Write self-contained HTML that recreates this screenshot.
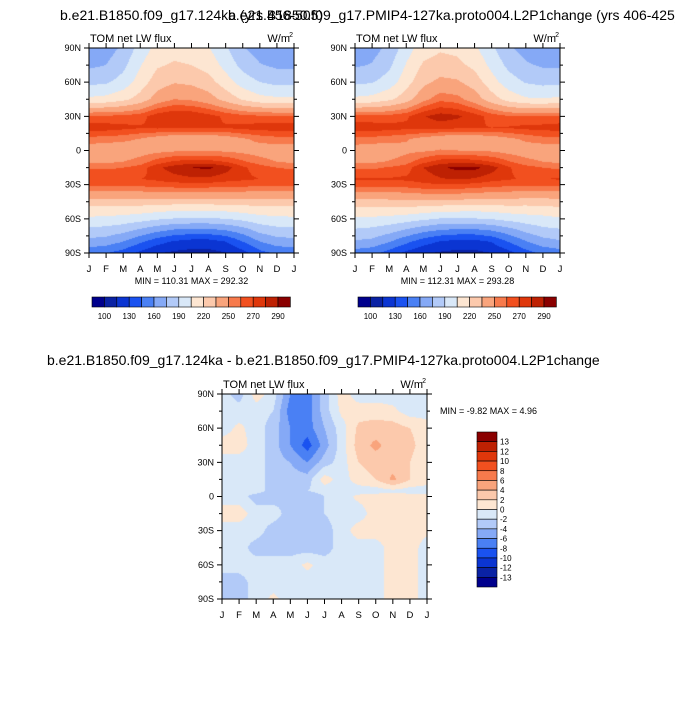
<!DOCTYPE html>
<html><head><meta charset="utf-8">
<style>
html,body{margin:0;padding:0;background:#fff;width:675px;height:701px;overflow:hidden;position:relative;font-family:"Liberation Sans",Arial,sans-serif}
canvas{position:absolute}
svg{position:absolute;left:0;top:0}
</style></head>
<body>
<canvas id="c1" width="205" height="205" style="left:89px;top:48px"></canvas>
<canvas id="c2" width="205" height="205" style="left:355px;top:48px"></canvas>
<canvas id="c3" width="205" height="205" style="left:222px;top:394px"></canvas>
<svg id="ov" width="675" height="701"></svg>
<script>
// ---- data ----
const months = ["J","F","M","A","M","J","J","A","S","O","N","D","J"];
const lats = [90,75,60,45,30,20,10,0,-10,-15,-25,-30,-40,-50,-60,-70,-80,-90];
const latLabels = ["90N","60N","30N","0","30S","60S","90S"];
const latTicks = [90,60,30,0,-30,-60,-90];
const fieldA = [
[165,168,178,196,210,214,212,206,192,176,168,165,165],
[172,175,186,204,218,222,220,214,200,185,176,172,172],
[186,188,196,212,228,234,232,226,212,198,190,186,186],
[208,210,216,226,242,250,248,242,230,218,210,208,208],
[262,262,263,266,276,280,279,274,268,264,262,262,262],
[275,275,273,271,272,272,272,271,271,273,275,275,275],
[256,255,253,249,243,238,236,238,242,248,253,256,256],
[242,240,240,244,246,248,248,248,248,246,244,242,242],
[248,248,250,255,265,272,275,274,270,262,255,250,248],
[258,258,260,264,278,285,290,292,285,272,265,260,258],
[270,270,270,270,272,276,278,278,274,272,270,270,270],
[263,263,263,263,265,266,266,266,265,264,263,263,263],
[240,240,240,241,242,242,242,242,242,241,240,240,240],
[218,218,217,216,214,212,212,212,213,215,217,218,218],
[202,201,199,196,192,189,188,188,190,194,199,201,202],
[186,184,180,172,164,158,156,156,160,168,180,185,186],
[170,168,160,148,136,128,124,124,130,145,160,168,170],
[150,146,138,126,116,112,110,110,114,124,140,148,150]
];
const fieldB = [
[166,169,179,198,213,218,216,208,193,177,169,166,166],
[173,176,187,206,222,226,224,216,201,186,177,173,173],
[187,189,197,214,231,239,237,228,211,197,189,186,187],
[208,210,217,228,246,257,254,243,227,214,207,206,208],
[263,263,264,268,279,285,282,275,266,261,260,260,262],
[276,276,274,273,274,274,272,271,270,271,273,274,275],
[257,256,254,251,245,240,237,239,242,247,252,256,257],
[243,241,242,247,248,251,250,249,248,245,243,241,242],
[248,248,251,256,267,275,277,275,270,261,254,250,248],
[258,258,261,265,280,288,293,293,285,271,264,260,258],
[271,271,271,272,274,279,281,279,274,271,269,270,271],
[264,264,264,265,268,269,269,267,264,263,262,262,263],
[241,241,242,244,245,245,245,243,243,242,239,239,241],
[219,219,219,219,217,215,214,213,214,216,216,217,219],
[203,202,200,197,193,189,189,189,191,195,198,200,203],
[188,186,181,173,165,159,157,157,161,169,179,186,188],
[173,171,161,149,137,129,125,125,131,146,159,169,173],
[153,149,139,126,117,113,111,111,115,125,139,149,153]
];
const latsD = [90,75,60,45,30,15,5,0,-15,-30,-45,-60,-75,-90];
const fieldD = [
[-1,-3, 1,-1,-6,-7,-3, 1,-1,-1,-1,-1,-1],
[-1,-1,-1,-2,-7,-7,-3,0.5,1,1,0.5,-1,-1],
[-1,0.5,-1,-3,-6,-7,-4,-1,2.5,3,3,2,1],
[1, 1,-1,-3,-6,-9,-5,-1, 3,4.5,3,2.5,1],
[-1,-1,-1,-3,-4,-6,-3,-1, 2, 3,3, 2,0.5],
[-1,-1,-1,-3,-3,-3, 1,-1, 1, 2,4.5,2,1],
[-1,-1,-1,-3,-2,-2,-1,-1,-1,-1,-0.5,-1,-1],
[-1,-1,-3,-3,-2,-4,-2,-1,0.5,1, 1, 1,1],
[ 1, 1,-1,-1,-3,-4,-2,-1,-1, 1, 1,0.5,0.5],
[-1,-1,-1,-3,-3,-3,-3,-1, 1, 1, 1, 1,0.5],
[-1,-1,-3,-3,-3,-3,-3,-1,-1,-1, 1, 1,-1],
[-1,-1,-1,-1,-1,0.5,-1,-1,-1,-1,1, 1,-1],
[-3,-3,-1,-1,-1,-1,-1,-1,-1,-1, 1, 1,-1],
[-3,-3,-1,0.5,-1,-1,-1,-1,-1,-1,1, 1,-1]
];
const levelsTop = [100,115,130,145,160,175,190,205,220,235,250,260,270,280,290];
const levelsTopLabels = ["100","130","160","190","220","250","270","290"];
const levelsDiff = [-13,-12,-10,-8,-6,-4,-2,0,2,4,6,8,10,12,13];
const levelsDiffLabels = ["13","12","10","8","6","4","2","0","-2","-4","-6","-8","-10","-12","-13"];
const colors = ["#00008c","#0a22a4","#0b35d2","#1a52f0","#4a80f4","#85a9f6","#b2caf8","#d9e8f8","#fde6d2","#fcc9ac","#f9a47c","#f77a4c","#f2501f","#df370b","#be2103","#8a0000"];

function interp(lat, mf, latArr, fld){
  let i=0; while(i<latArr.length-2 && lat<latArr[i+1]) i++;
  const t=(latArr[i]-lat)/(latArr[i]-latArr[i+1]);
  const j=Math.min(11,Math.floor(mf)); const s=mf-j;
  const a=fld[i][j]*(1-s)+fld[i][j+1]*s;
  const b=fld[i+1][j]*(1-s)+fld[i+1][j+1]*s;
  return a*(1-t)+b*t;
}
function idx(v,lv){let k=0;while(k<lv.length&&v>=lv[k])k++;return k;}
function drawField(id,latArr,fld,lv){
  const cv=document.getElementById(id),ctx=cv.getContext('2d');
  const W=cv.width,H=cv.height;
  for(let y=0;y<H;y++){const lat=90-180*(y+0.5)/H;
    for(let x=0;x<W;x++){const mf=12*(x+0.5)/W;
      ctx.fillStyle=colors[idx(interp(lat,mf,latArr,fld),lv)];ctx.fillRect(x,y,1,1);}}
}
drawField('c1',lats,fieldA,levelsTop);
drawField('c2',lats,fieldB,levelsTop);
drawField('c3',latsD,fieldD,levelsDiff);

const NS="http://www.w3.org/2000/svg",ov=document.getElementById('ov');
function el(tag,at,txt){const e=document.createElementNS(NS,tag);for(const k in at)e.setAttribute(k,at[k]);if(txt!==undefined)e.textContent=txt;ov.appendChild(e);return e;}
function txt(x,y,s,size,anchor,name){const t=el('text',{x:x,y:y,'font-size':size,'text-anchor':anchor||'start',fill:'#000','font-family':'Liberation Sans, Arial, sans-serif'},s);

return t;}

function axes(x0,y0,pref,minmax){
  const W=205,H=205;
  const xs=m=>x0+W*m/12, ys=l=>y0+H*(90-l)/180;
  const fr=el('rect',{x:x0,y:y0,width:W,height:H,fill:'none',stroke:'#000','stroke-width':1});
  
  
  let d='';
  months.forEach((m,i)=>{const x=xs(i);d+=`M${x},${y0+H}v5M${x},${y0}v-5`;});
  for(let l=-75;l<=75;l+=15){if(l%30) d+=`M${x0},${ys(l)}h-3M${x0+W},${ys(l)}h3`;}
  latTicks.forEach(l=>{d+=`M${x0},${ys(l)}h-5M${x0+W},${ys(l)}h5`;});
  const p=el('path',{d:d,stroke:'#000','stroke-width':1,fill:'none'});
  
  
  months.forEach((m,i)=>txt(xs(i),y0+H+19,m,9.5,'middle',pref+'-x-tick-label'));
  latTicks.forEach((l,i)=>txt(x0-8,ys(l)+3,latLabels[i],9,'end',pref+'-y-tick-label'));
  txt(x0+1,y0-6,'TOM net LW flux',11,'start',pref+'-subtitle');
  txt(x0+W-4,y0-6,'W/m',11,'end',pref+'-units');
  el('text',{x:x0+W-1,y:y0-11,'font-size':7,'text-anchor':'end'},'2');
  if(minmax) txt(x0+W/2,y0+H+31,minmax,9,'middle',pref+'-min-max');
}
axes(89,48,'left','MIN = 110.31 MAX = 292.32');
axes(355,48,'right','MIN = 112.31 MAX = 293.28');
axes(222,394,'diff',null);

function hbar(x0,y0,pref){
  const bw=12.4;
  colors.forEach((c,i)=>{const r=el('rect',{x:x0+i*bw,y:y0,width:bw,height:10,fill:c,stroke:'#000','stroke-width':0.6});
  
  });
  levelsTopLabels.forEach((s,i)=>txt(x0+bw*(1+2*i),y0+22,s,8,'middle',pref+'-colorbar-label'));
}
hbar(92,297,'left');hbar(358,297,'right');
const vx=477,vy=432,vh=155/16;
colors.slice().reverse().forEach((c,i)=>{const r=el('rect',{x:vx,y:vy+i*vh,width:20,height:vh,fill:c,stroke:'#000','stroke-width':0.6});

});
levelsDiffLabels.forEach((s,i)=>txt(500,vy+(i+1)*vh+3,s,8,'start','diff-colorbar-label'));
txt(440,414,'MIN =  -9.82 MAX =   4.96',9,'start','diff-min-max');

txt(60,20,'b.e21.B1850.f09_g17.124ka (yrs 456-505)',14,'start','left-title');
txt(228,20,'b.e21.B1850.f09_g17.PMIP4-127ka.proto004.L2P1change (yrs 406-425)',14,'start','right-title');
txt(47,365,'b.e21.B1850.f09_g17.124ka - b.e21.B1850.f09_g17.PMIP4-127ka.proto004.L2P1change',14,'start','difference-title');
</script>
</body></html>
